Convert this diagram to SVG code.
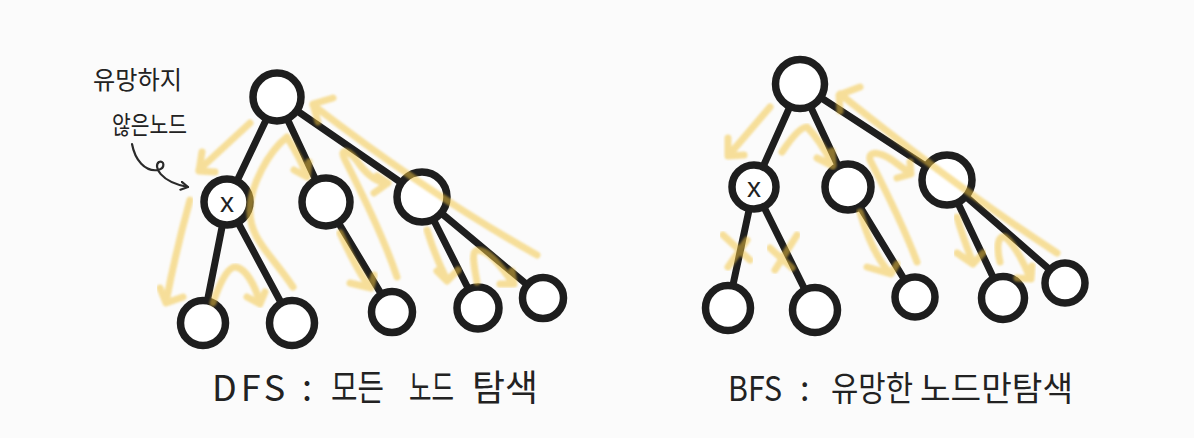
<svg xmlns="http://www.w3.org/2000/svg" width="1194" height="438" viewBox="0 0 1194 438">
<defs>
<filter id="soft" x="-10%" y="-10%" width="120%" height="120%"><feGaussianBlur stdDeviation="1.3"/></filter>
<marker id="ink" markerWidth="10" markerHeight="10" refX="8" refY="5" orient="auto" markerUnits="userSpaceOnUse"><path d="M1,1 L8,5 L1,9" fill="none" stroke="#2a2a2a" stroke-width="2.2" stroke-linecap="round" stroke-linejoin="round"/></marker>
</defs>
<style>
.bg{fill:#fbfbfb}
.node{fill:#ffffff;stroke:#1e1e1e;stroke-width:7.5}
.edge{stroke:#1e1e1e;stroke-width:7;stroke-linecap:round;fill:none}
.hl{fill:none;stroke:#f2c440;stroke-width:7;stroke-linecap:round;stroke-linejoin:round;opacity:0.52;filter:url(#soft)}
.hand{font-family:"Noto Sans CJK KR","Noto Sans",sans-serif;fill:#222222}
.x{font-family:"Liberation Sans",sans-serif;font-size:28px;fill:#222222;text-anchor:middle}
.note{fill:none;stroke:#2a2a2a;stroke-width:2.2;stroke-linecap:round}
</style>
<rect class="bg" x="0" y="0" width="1194" height="438"/>

<g id="connectors">
<line class="edge" x1="277" y1="97" x2="227" y2="202"/>
<line class="edge" x1="277" y1="97" x2="326" y2="202"/>
<line class="edge" x1="277" y1="97" x2="422" y2="197"/>
<line class="edge" x1="227" y1="202" x2="203" y2="323"/>
<line class="edge" x1="227" y1="202" x2="292" y2="323"/>
<line class="edge" x1="326" y1="202" x2="392" y2="312"/>
<line class="edge" x1="422" y1="197" x2="478" y2="308"/>
<line class="edge" x1="422" y1="197" x2="543" y2="298"/>
<line class="edge" x1="800" y1="84" x2="754" y2="187"/>
<line class="edge" x1="800" y1="84" x2="848" y2="187"/>
<line class="edge" x1="800" y1="84" x2="947" y2="180"/>
<line class="edge" x1="754" y1="187" x2="728" y2="308"/>
<line class="edge" x1="754" y1="187" x2="815" y2="310"/>
<line class="edge" x1="848" y1="187" x2="915" y2="297"/>
<line class="edge" x1="947" y1="180" x2="1003" y2="298"/>
<line class="edge" x1="947" y1="180" x2="1065" y2="283"/>
</g>

<g id="dfs-root"><circle class="node" cx="277" cy="97" r="24"/></g>
<g id="dfs-x"><circle class="node" cx="227" cy="202" r="23"/><text class="x" x="227" y="212">x</text></g>
<g id="dfs-mid"><circle class="node" cx="326" cy="202" r="24"/></g>
<g id="dfs-right"><circle class="node" cx="422" cy="197" r="25"/></g>
<g id="dfs-leaf1"><circle class="node" cx="203" cy="323" r="22.5"/></g>
<g id="dfs-leaf2"><circle class="node" cx="292" cy="323" r="22.5"/></g>
<g id="dfs-leaf3"><circle class="node" cx="392" cy="312" r="20.5"/></g>
<g id="dfs-leaf4"><circle class="node" cx="478" cy="308" r="21"/></g>
<g id="dfs-leaf5"><circle class="node" cx="543" cy="298" r="20.5"/></g>

<g id="bfs-root"><circle class="node" cx="800" cy="84" r="24.5"/></g>
<g id="bfs-x"><circle class="node" cx="754" cy="187" r="22"/><text class="x" x="754" y="197">x</text></g>
<g id="bfs-mid"><circle class="node" cx="848" cy="187" r="23"/></g>
<g id="bfs-right"><circle class="node" cx="947" cy="180" r="25"/></g>
<g id="bfs-leaf1"><circle class="node" cx="728" cy="308" r="22.5"/></g>
<g id="bfs-leaf2"><circle class="node" cx="815" cy="310" r="22.5"/></g>
<g id="bfs-leaf3"><circle class="node" cx="915" cy="297" r="20"/></g>
<g id="bfs-leaf4"><circle class="node" cx="1003" cy="298" r="21.5"/></g>
<g id="bfs-leaf5"><circle class="node" cx="1065" cy="283" r="20"/></g>

<g id="dfs-traversal">
<path class="hl" d="M250,123 L199,170 M202,152 L199,171 L215,172"/>
<path class="hl" d="M190,200 Q176,250 166,302 M160,288 L166,303 L183,297"/>
<path class="hl" d="M293,287 C272,255 248,238 250,208 C251,185 268,152 287,137 C295,150 302,162 307,176 M294,170 L307,177 L309,162"/>
<path class="hl" d="M213,303 C220,282 228,266 236,267 C246,269 255,285 260,303 M247,297 L260,304 L265,292"/>
<path class="hl" d="M537,255 Q430,195 313,105 M333,98 L313,104 L318,122"/>
<path class="hl" d="M397,277 C388,250 368,205 345,160 C338,146 350,150 360,165 C370,178 378,182 387,183 M377,176 L388,183 L374,193"/>
<path class="hl" d="M340,233 C350,255 360,275 370,287 M350,283 L371,288 L374,275"/>
<path class="hl" d="M427,230 C433,250 440,266 447,280 M437,271 L447,281 L458,270"/>
<path class="hl" d="M477,282 C474,266 471,252 477,250 C490,250 503,270 513,283 M500,284 L514,284 L512,271"/>
</g>

<g id="bfs-traversal">
<path class="hl" d="M770,107 L729,155 M728,138 L728,156 L744,155"/>
<path class="hl" d="M782,152 C790,140 800,127 807,127 C815,135 825,150 833,165 M817,158 L833,166 L832,151"/>
<path class="hl" d="M723,235 L750,260 M747,240 L728,267"/>
<path class="hl" d="M770,248 L792,268 M797,235 L775,270"/>
<path class="hl" d="M860,212 C868,240 878,260 890,273 M867,267 L891,274 L897,264"/>
<path class="hl" d="M917,262 C905,230 888,195 870,160 C868,150 880,152 892,160 C900,166 905,170 910,173 M897,178 L911,174 L910,162"/>
<path class="hl" d="M957,217 C962,235 968,250 973,263 M957,253 L973,264 L983,253"/>
<path class="hl" d="M1000,262 C996,246 998,235 1005,237 C1015,245 1025,265 1030,278 M1017,278 L1031,279 L1032,266"/>
<path class="hl" d="M1057,253 Q960,190 840,94 M860,87 L839,95 L840,111"/>
</g>

<g id="annotation">
<text class="hand" font-size="25" x="93" y="89" textLength="89" lengthAdjust="spacingAndGlyphs">유망하지</text>
<text class="hand" font-size="25" x="112" y="134" textLength="75" lengthAdjust="spacingAndGlyphs">않은노드</text>
<path class="note" d="M132,144 C135,160 145,172 158,170 C166,168 164,160 159,162 C153,166 160,182 188,187" marker-end="url(#ink)"/>
</g>

<g id="captions">
<text class="hand" font-size="36" y="401"><tspan x="212" letter-spacing="4">DFS</tspan><tspan x="302">:</tspan><tspan x="331" textLength="53" lengthAdjust="spacingAndGlyphs">모든</tspan><tspan x="409" textLength="45" lengthAdjust="spacingAndGlyphs">노드</tspan><tspan x="472" textLength="66" lengthAdjust="spacingAndGlyphs">탐색</tspan></text>
<text class="hand" font-size="34" y="401"><tspan x="728" textLength="54" lengthAdjust="spacingAndGlyphs">BFS</tspan><tspan x="800">:</tspan><tspan x="831" textLength="82" lengthAdjust="spacingAndGlyphs">유망한</tspan><tspan x="920" textLength="153" lengthAdjust="spacingAndGlyphs">노드만탐색</tspan></text>
</g>
</svg>
